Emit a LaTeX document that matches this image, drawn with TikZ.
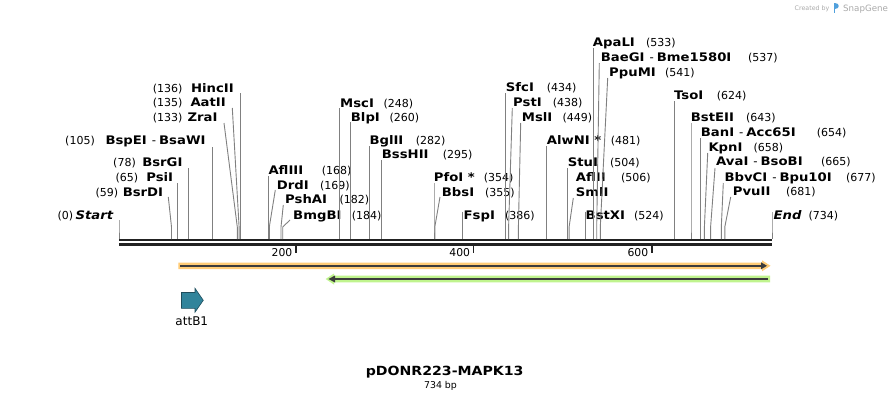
\documentclass[tikz,border=0pt]{standalone}
\usepackage{fontspec}
\setmainfont{DejaVu Sans}[BoldFeatures={FakeStretch=1.12},BoldItalicFeatures={FakeStretch=1.12}]
\definecolor{linegray}{RGB}{128,128,128}
\definecolor{bbone}{RGB}{34,34,34}
\definecolor{orfill}{RGB}{255,204,119}
\definecolor{grfill}{RGB}{192,244,142}
\definecolor{featdark}{RGB}{60,60,60}
\definecolor{attfill}{RGB}{49,132,155}
\definecolor{attdraw}{RGB}{30,77,92}
\definecolor{sgblue}{RGB}{80,160,220}
\definecolor{sggray}{RGB}{170,170,170}
\newcommand\pr[2]{#1\hspace{5pt}{\mdseries-}\hspace{3pt}#2}
% right-side site: id, name, number, name-left-x, number-left-x, label-y, top-x, top-y, site-x
\newcommand\rsite[9]{%
  \node[nm,anchor=west] (#1) at (#4,#6) {#2};
  \node[nb,anchor=west] (#1n) at (#5,#6) {#3};
  \coordinate (#1t) at (#7,#8);
  \coordinate (#1b) at (#9,227);
  \coordinate (#1s) at (#9,239);
  \draw[sl] (#1t) -- (#1b) -- (#1s);}
% left-side site: id, name, number, name-right-x, number-right-x, label-y, top-x, top-y, site-x
\newcommand\lsite[9]{%
  \node[nm,anchor=east] (#1) at (#4,#6) {#2};
  \node[nb,anchor=east] (#1n) at (#5,#6) {#3};
  \coordinate (#1t) at (#7,#8);
  \coordinate (#1b) at (#9,227);
  \coordinate (#1s) at (#9,239);
  \draw[sl] (#1t) -- (#1b) -- (#1s);}
\begin{document}
\begin{tikzpicture}[x=1pt,y=-1pt,
  nm/.style={font=\fontsize{11.8}{13}\selectfont\bfseries, inner sep=0pt, text height=8.6pt, text depth=0pt},
  nb/.style={font=\fontsize{11}{13}\selectfont, inner sep=0pt, text height=8pt, text depth=0pt},
  sl/.style={draw=linegray, line width=0.9pt},
  bb/.style={draw=bbone, line width=2.4pt},
  tick/.style={draw=bbone, line width=1.8pt},
  ticklbl/.style={font=\fontsize{10.8}{12}\selectfont, inner sep=0pt, text height=7.9pt, text depth=0pt, anchor=east}]
\useasboundingbox (0,0) rectangle (892,402);
\fill[white] (0,0) rectangle (892,402);

% backbone
\coordinate (bbL1) at (119,240);
\coordinate (bbR1) at (772,240);
\coordinate (bbL2) at (119,244.3);
\coordinate (bbR2) at (772,244.3);
\draw[bb, line width=2.2pt] (bbL1) -- (bbR1);
\draw[bb, line width=2.6pt] (bbL2) -- (bbR2);

% ticks
\foreach \tx/\tl/\lx in {295.8/200/292.5, 473.5/400/470.2, 651.8/600/648.4}{
  \coordinate (tk\tl a) at (\tx,245);
  \coordinate (tk\tl b) at (\tx,252.5);
  \draw[tick] (tk\tl a) -- (tk\tl b);
  \node[ticklbl] (tl\tl) at (\lx,252.2) {\tl};
}

% left-side sites
\lsite{start}{\itshape Start}{(0)}{113.3}{73.3}{215}{119}{220}{119}
\lsite{bsrdi}{BsrDI}{(59)}{163.3}{118.3}{192}{168.3}{197}{171.5}
\lsite{psii}{PsiI}{(65)}{173.3}{138.3}{177}{177.3}{183}{177.3}
\lsite{bsrgi}{BsrGI}{(78)}{182.7}{136}{162}{188.4}{168}{188.4}
\lsite{bspei}{\pr{BspEI}{BsaWI}}{(105)}{205.7}{95}{140}{212.4}{147}{212.4}
\lsite{zrai}{ZraI}{(133)}{217.7}{182.7}{117}{224}{123}{237.3}
\lsite{aatii}{AatII}{(135)}{226}{182.7}{102}{232.3}{108}{239.1}
\lsite{hincii}{HincII}{(136)}{234}{182.7}{88}{240.5}{93}{240.5}

% right-side sites
\rsite{afliii}{AflIII}{(168)}{268.3}{321.7}{170}{268.5}{176}{268.5}
\rsite{drdi}{DrdI}{(169)}{276.7}{320}{185}{275.3}{190}{269.3}
\rsite{pshai}{PshAI}{(182)}{285}{339.3}{199}{283.3}{205}{281}
\rsite{bmgbi}{BmgBI}{(184)}{293}{351.7}{215}{290}{220}{282.7}
\rsite{msci}{MscI}{(248)}{340}{383.3}{103}{339.6}{108}{339.6}
\rsite{blpi}{BlpI}{(260)}{350.7}{389.3}{117}{350.3}{122}{350.3}
\rsite{bglii}{BglII}{(282)}{369.3}{415.7}{140}{369.9}{146}{369.9}
\rsite{bsshii}{BssHII}{(295)}{381.7}{442.7}{154}{381.4}{160}{381.4}
\rsite{pfoi}{PfoI *}{(354)}{433.7}{483.7}{177}{434}{183}{434}
\rsite{bbsi}{BbsI}{(355)}{441.7}{485}{192}{440}{197}{434.8}
\rsite{fspi}{FspI}{(386)}{463.5}{505}{215}{462.4}{211.5}{462.4}
\rsite{sfci}{SfcI}{(434)}{505.7}{546.7}{87}{505.1}{93}{505.1}
\rsite{psti}{PstI}{(438)}{513}{552.7}{102}{512.3}{108}{508.6}
\rsite{msli}{MslI}{(449)}{521.7}{562.3}{117}{520.7}{123}{518.4}
\rsite{alwni}{AlwNI *}{(481)}{546.7}{610.7}{140}{546.9}{146}{546.9}
\rsite{stui}{StuI}{(504)}{567.7}{610}{162}{567.4}{168}{567.4}
\node[nm,anchor=west] (aflii) at (575.7,177) {AflII};
\node[nb,anchor=west] (afliin) at (621,177) {(506)};
\node[nm,anchor=west] (smli) at (575.7,192) {SmlI};
\coordinate (smlit) at (573.3,198);
\coordinate (smlib) at (569.1,227);
\coordinate (smlis) at (569.1,239);
\draw[sl] (smlit) -- (smlib) -- (smlis);
\rsite{bstxi}{BstXI}{(524)}{585.5}{634}{215}{585.2}{211.5}{585.2}
\rsite{apali}{ApaLI}{(533)}{592.7}{646}{42}{593.2}{48}{593.2}
\rsite{baegi}{\pr{BaeGI}{Bme1580I}}{(537)}{600.7}{748}{57}{599.3}{63}{596.7}
\rsite{ppumi}{PpuMI}{(541)}{609}{665}{72}{607.7}{78}{600.3}
\rsite{tsoi}{TsoI}{(624)}{674}{716.7}{95}{674.1}{101}{674.1}
\rsite{bsteii}{BstEII}{(643)}{690.7}{746}{117}{691}{123}{691}
\rsite{bani}{\pr{BanI}{Acc65I}}{(654)}{700.7}{816.7}{132}{700.8}{138}{700.8}
\rsite{kpni}{KpnI}{(658)}{708.3}{753.3}{147}{707.7}{153}{704.4}
\rsite{avai}{\pr{AvaI}{BsoBI}}{(665)}{716}{821}{161}{715}{168}{710.6}
\rsite{bbvci}{\pr{BbvCI}{Bpu10I}}{(677)}{724.3}{846}{177}{723.3}{183}{721.3}
\rsite{pvuii}{PvuII}{(681)}{732.7}{786}{191}{730.7}{197}{724.8}
\rsite{end}{\itshape End}{(734)}{773.5}{808.3}{215}{772}{212}{772}

% orange feature (forward)
\fill[orfill] (178.3,262.7) -- (762,262.7) -- (762,260.3) -- (770.5,265.8) -- (762,271.3) -- (762,269) -- (178.3,269) -- cycle;
\coordinate (orA) at (180,265.8);
\coordinate (orB) at (762,265.8);
\draw[featdark, line width=2pt] (orA) -- (orB);
\fill[featdark] (761,262.3) -- (767,265.8) -- (761,269.3) -- cycle;

% green feature (reverse)
\fill[grfill] (770,275.7) -- (334,275.7) -- (334,273.5) -- (325.7,279) -- (334,284.5) -- (334,282.3) -- (770,282.3) -- cycle;
\coordinate (grA) at (768,279);
\coordinate (grB) at (334,279);
\draw[featdark, line width=2pt] (grA) -- (grB);
\fill[featdark] (335,275.5) -- (328.5,279) -- (335,282.5) -- cycle;

% attB1
\draw[attdraw, fill=attfill, line width=0.6pt] (181.5,292.5) -- (195,292.5) -- (195,288.3) -- (203.3,300.3) -- (195,312.2) -- (195,308.3) -- (181.5,308.3) -- cycle;
\node[font=\fontsize{12}{14}\selectfont, inner sep=0pt, text height=8.8pt, text depth=0pt] (attb1) at (191.8,321.5) {attB1};

% title
\node[font=\fontsize{12.6}{15}\selectfont\bfseries, inner sep=0pt, text height=9.2pt, text depth=0pt] (title) at (444.7,371.2) {pDONR223-MAPK13};
\node[font=\fontsize{9.4}{11}\selectfont, inner sep=0pt, text height=6.9pt, text depth=0pt] (bp) at (440.5,385.3) {734 bp};

% credit
\node[font=\fontsize{6.3}{7}\selectfont, text=sggray, inner sep=0pt, anchor=west, text height=4.6pt, text depth=0pt] (cby) at (794.5,8) {Created by};
\fill[sgblue] (833.6,3.2) rectangle (835.4,13);
\fill[sgblue] (835.4,3.2) .. controls (840,3.2) and (840,9) .. (835.4,9) -- cycle;
\node[font=\fontsize{8.7}{10}\selectfont, text=sggray, inner sep=0pt, anchor=west, text height=6.3pt, text depth=0pt] (sg) at (843,8.3) {SnapGene};
\end{tikzpicture}
\end{document}
